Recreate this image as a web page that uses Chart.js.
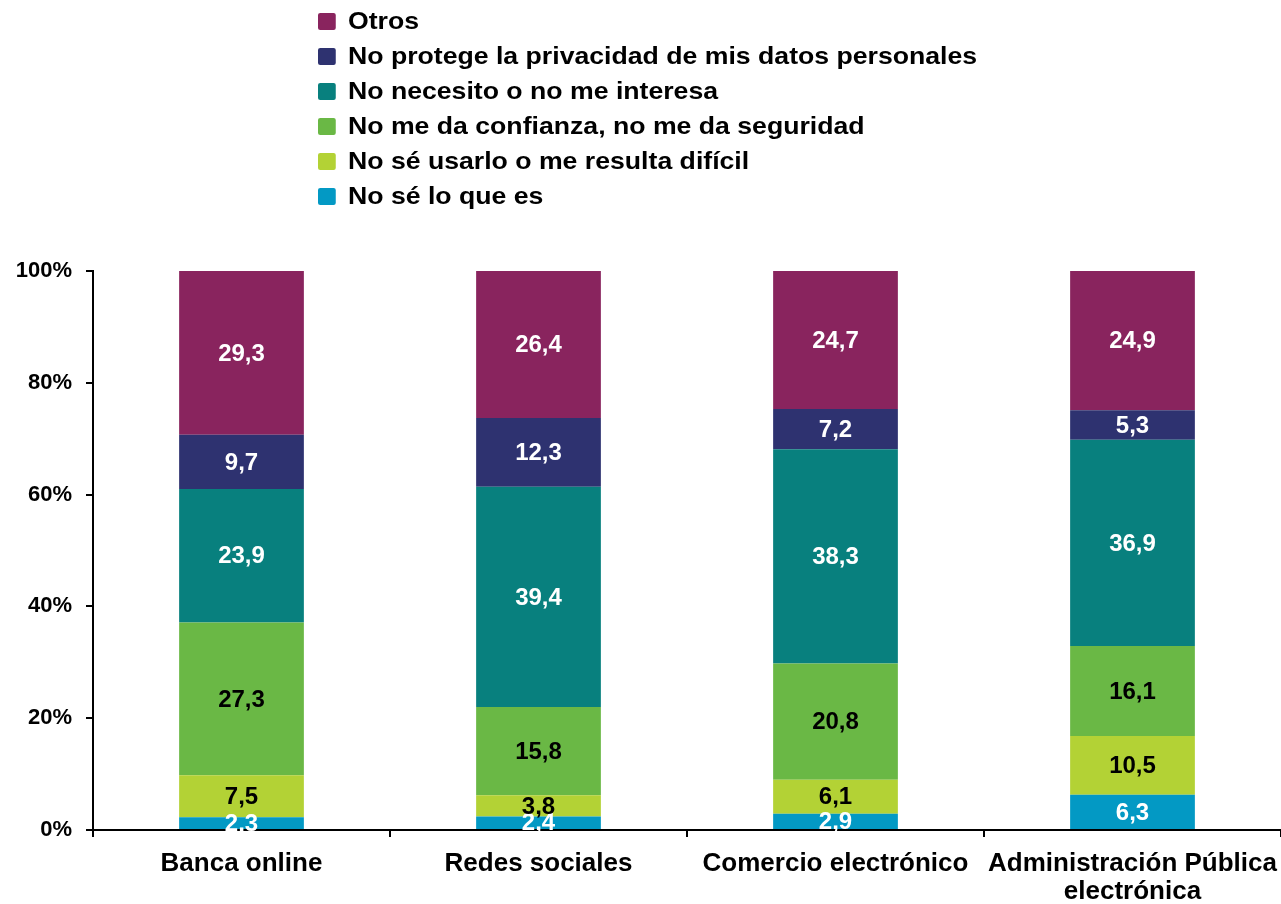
<!DOCTYPE html>
<html>
<head>
<meta charset="utf-8">
<script src="https://cdn.jsdelivr.net/npm/chart.js@4.4.0/dist/chart.umd.min.js"></script>
<style>
  body { margin: 0; background: #fff; font-family: "Liberation Sans", Arial, sans-serif; }
  #wrap { position: relative; width: 1281px; height: 904px; }
  #legend { position: absolute; left: 318px; top: 3px; margin: 0; padding: 0; list-style: none; transform: scaleX(1.11); transform-origin: 0 0; }
  #legend li { height: 35px; line-height: 35px; font-weight: bold; font-size: 24px; color: #000; white-space: nowrap; }
  #legend span { display: inline-block; width: 16px; height: 17px; border-radius: 2px; margin-right: 11px; vertical-align: -1px; }
</style>
</head>
<body>
<div id="wrap">
  <canvas id="grafico" width="1281" height="904"></canvas>
  <ul id="legend"></ul>
</div>
<script>
// Datos del gráfico
const categorias = ['Banca online', 'Redes sociales', 'Comercio electrónico', ['Administración Pública', 'electrónica']];
const series = ['No sé lo que es', 'No sé usarlo o me resulta difícil', 'No me da confianza, no me da seguridad',
                'No necesito o no me interesa', 'No protege la privacidad de mis datos personales', 'Otros'];
const noSeQueEs = [2.3, 2.4, 2.9, 6.3];
const noSeUsarlo = [7.5, 3.8, 6.1, 10.5];
const noConfianza = [27.3, 15.8, 20.8, 16.1];
const noNecesito = [23.9, 39.4, 38.3, 36.9];
const noPrivacidad = [9.7, 12.3, 7.2, 5.3];
const otros = [29.3, 26.4, 24.7, 24.9];
const ticksY = [0, 20, 40, 60, 80, 100];

const colores = ['#0399c4', '#b3d235', '#6ab845', '#08807e', '#2e3270', '#89245e'];
const coloresTexto = ['#fff', '#000', '#000', '#fff', '#fff', '#fff'];
const valores = [noSeQueEs, noSeUsarlo, noConfianza, noNecesito, noPrivacidad, otros];

// Etiquetas dentro de las barras
const etiquetasBarras = {
    id: 'etiquetasBarras',
    afterDatasetsDraw(chart) {
        const ctx = chart.ctx;
        ctx.save();
        ctx.font = 'bold 24px "Liberation Sans", Arial, sans-serif';
        ctx.textAlign = 'center';
        ctx.textBaseline = 'middle';
        chart.data.datasets.forEach((ds, i) => {
            const meta = chart.getDatasetMeta(i);
            meta.data.forEach((bar, j) => {
                const y = (bar.y + bar.base) / 2;
                ctx.fillStyle = coloresTexto[i];
                ctx.fillText(ds.data[j].toFixed(1).replace('.', ','), bar.x, y + 1);
            });
        });
        ctx.restore();
    }
};

const fuente = '"Liberation Sans", Arial, sans-serif';

const chart = new Chart(document.getElementById('grafico'), {
    type: 'bar',
    data: {
        labels: categorias,
        datasets: series.map((nombre, i) => ({
            label: nombre,
            data: valores[i],
            backgroundColor: colores[i],
            borderWidth: 0,
            categoryPercentage: 0.42,
            barPercentage: 1
        }))
    },
    options: {
        responsive: false,
        animation: false,
        layout: { padding: { top: 271, left: 0, right: 0, bottom: 0 } },
        plugins: {
            legend: { display: false },
            tooltip: { enabled: false }
        },
        scales: {
            x: {
                stacked: true,
                offset: true,
                afterFit(axis) { axis.height = 74; axis.paddingLeft = 0; axis.paddingRight = 0; },
                border: { color: '#000', width: 2 },
                grid: { offset: true, drawOnChartArea: false, drawTicks: true, tickLength: 7, tickColor: '#000', lineWidth: 2 },
                ticks: {
                    color: '#000',
                    maxRotation: 0,
                    autoSkip: false,
                    padding: 13,
                    font: { family: fuente, size: 26, weight: 'bold', lineHeight: 1.08 }
                }
            },
            y: {
                stacked: true,
                min: 0,
                max: 100,
                afterBuildTicks(axis) { axis.ticks = ticksY.map(v => ({ value: v })); },
                afterFit(axis) { axis.width = 93; },
                border: { color: '#000', width: 2 },
                grid: { drawOnChartArea: false, drawTicks: true, tickLength: 7, tickColor: '#000', lineWidth: 2 },
                ticks: {
                    color: '#000',
                    padding: 14,
                    callback: v => v + '%',
                    font: { family: fuente, size: 22, weight: 'bold' }
                }
            }
        }
    },
    plugins: [etiquetasBarras]
});

// Leyenda en orden inverso
const legend = document.getElementById('legend');
chart.data.datasets.slice().reverse().forEach(ds => {
    const li = document.createElement('li');
    const box = document.createElement('span');
    box.style.background = ds.backgroundColor;
    li.appendChild(box);
    li.appendChild(document.createTextNode(ds.label));
    legend.appendChild(li);
});
</script>
</body>
</html>
